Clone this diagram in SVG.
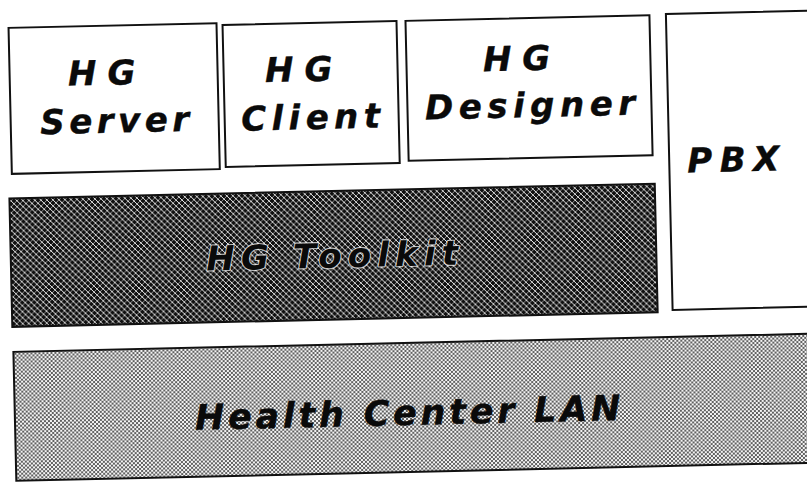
<svg xmlns="http://www.w3.org/2000/svg" width="807" height="484" viewBox="0 0 807 484">
<defs>
<pattern id="hatch" width="6" height="6" patternUnits="userSpaceOnUse">
<rect width="6" height="6" fill="#101010"/>
<path d="M-1,-1 L7,7 M-1,5 L1,7 M5,-1 L7,1" stroke="#f0f0f0" stroke-width="1"/>
<path d="M7,-1 L-1,7" stroke="#cfcfcf" stroke-width="0.7"/>
</pattern>
<pattern id="dots" width="4" height="4" patternUnits="userSpaceOnUse">
<rect width="4" height="4" fill="#f4f4f4"/>
<circle cx="1" cy="1" r="0.95" fill="#222"/>
<circle cx="3" cy="3" r="0.95" fill="#222"/>
</pattern>
</defs>
<style>
.box{fill:#fff;stroke:#111;stroke-width:2}
.lbl{font-family:"DejaVu Sans","Liberation Sans",Arial,sans-serif;font-weight:bold;font-style:italic;font-size:34px;fill:#0a0a0a;stroke:#0a0a0a;stroke-width:0.4}
.hg{letter-spacing:11px}
.tk{stroke:#f4f4f4;stroke-width:2.2;paint-order:stroke;stroke-opacity:0.75;stroke-linejoin:round}
</style>
<g transform="rotate(-1.3 403 242)">
<g id="hg-server">
<rect class="box" x="13.5" y="19" width="208" height="146"/>
<text class="lbl hg" x="72" y="78">HG</text>
<text class="lbl" x="43" y="126" style="letter-spacing:4.5px">Server</text>
</g>
<g id="hg-client">
<rect class="box" x="227.5" y="21" width="174" height="142"/>
<text class="lbl hg" x="269" y="79">HG</text>
<text class="lbl" x="244" y="127" style="letter-spacing:5.4px">Client</text>
</g>
<g id="hg-designer">
<rect class="box" x="410.5" y="21" width="244" height="140"/>
<text class="lbl hg" x="487" y="73">HG</text>
<text class="lbl" x="428" y="120" style="letter-spacing:5.5px">Designer</text>
</g>
<g id="pbx">
<rect class="box" x="671" y="20" width="200" height="296"/>
<text class="lbl" x="689" y="179" style="letter-spacing:7.5px">PBX</text>
</g>
<g id="hg-toolkit">
<rect x="10.5" y="189.5" width="645.5" height="128.5" fill="url(#hatch)" stroke="#111" stroke-width="2"/>
<text class="lbl tk" x="206" y="266" style="letter-spacing:6.2px">HG Toolkit</text>
</g>
<g id="health-center-lan">
<rect x="11" y="343" width="850" height="129" fill="url(#dots)" stroke="#111" stroke-width="2"/>
<text class="lbl" x="191" y="425" style="font-size:35px;letter-spacing:3.75px">Health Center LAN</text>
</g>
<g id="connectors"/>
</g>
</svg>
